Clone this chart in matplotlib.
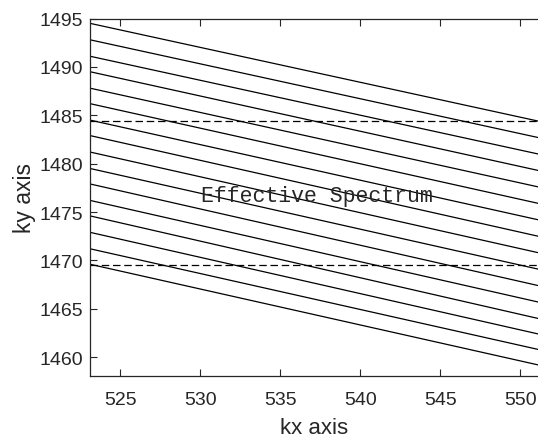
import matplotlib.pyplot as plt
import numpy as np

# line ends: ky at kx = x_ends[0] and x_ends[1]
x_ends = [523.1, 551.1]
ky_start = [1494.5, 1492.8, 1491.1, 1489.5, 1487.8, 1486.2, 1484.5, 1482.9,
            1481.2, 1479.5, 1477.9, 1476.2, 1474.6, 1472.9, 1471.2, 1469.6]
ky_end = [1484.4, 1482.7, 1481.0, 1479.3, 1477.6, 1475.9, 1474.2, 1472.5,
          1470.8, 1469.1, 1467.4, 1465.7, 1464.0, 1462.4, 1460.8, 1459.2]
band = [1469.55, 1484.45]

xticks = [525, 530, 535, 540, 545, 550]
yticks = [1460, 1465, 1470, 1475, 1480, 1485, 1490, 1495]

plt.rcParams['font.family'] = ['Liberation Sans', 'DejaVu Sans']

fig = plt.figure(figsize=(5.38, 4.39), dpi=100)
ax = fig.add_axes([90 / 538, 62 / 439, 448 / 538, 357.5 / 439])

for y0, y1 in zip(ky_start, ky_end):
    ax.plot(x_ends, [y0, y1], color='black', lw=0.9)

for b in band:
    ax.axhline(b, color='black', lw=0.9, linestyle=(0, (6, 3)))

ax.text(537.3, 1476.7, 'Effective Spectrum', fontsize=15.5,
        family='Liberation Mono', ha='center', va='center', color='#262626')

ax.set_xlim(x_ends[0], x_ends[1])
ax.set_ylim(1458.05, 1495)
ax.set_xticks(xticks)
ax.set_yticks(yticks)
ax.tick_params(direction='in', length=5, width=0.8, colors='#262626',
               labelsize=14, top=True, right=False)
ax.tick_params(axis='x', pad=11)
ax.tick_params(axis='y', pad=5)
ax.spines['right'].set_visible(False)
for s in ['left', 'top', 'bottom']:
    ax.spines[s].set_color('#262626')
    ax.spines[s].set_linewidth(0.9)

ax.set_xlabel('kx axis', fontsize=16, color='#262626', labelpad=6)
ax.set_ylabel('ky axis', fontsize=16.5, color='#262626', labelpad=2.5)

plt.savefig('out.png', dpi=100)
plt.close()
